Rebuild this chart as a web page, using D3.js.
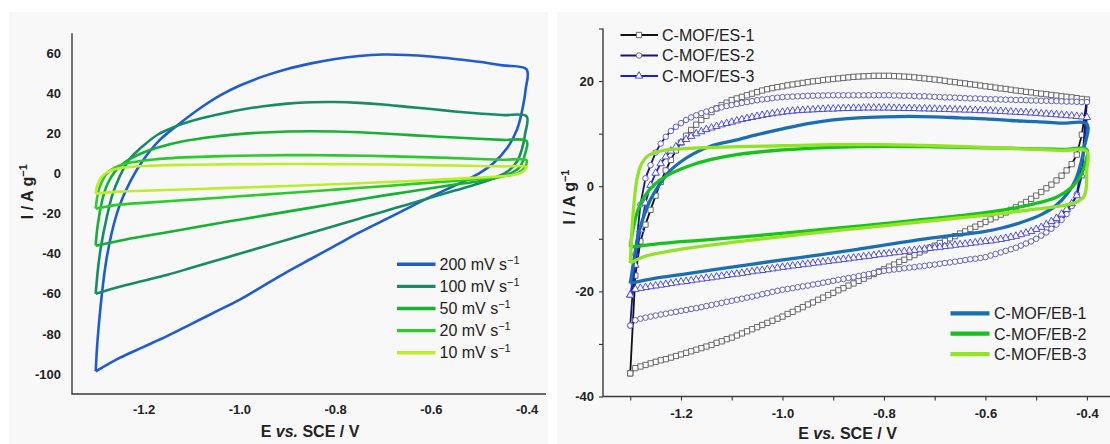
<!DOCTYPE html>
<html>
<head>
<meta charset="utf-8">
<script src="https://d3js.org/d3.v7.min.js"></script>
<style>
  body { margin: 0; background: #fff; }
  svg { display: block; font-family: "Liberation Sans", Arial, sans-serif; }
</style>
</head>
<body>
<svg width="1110" height="444"></svg>
<script>
// ---------- left panel: CV loops at different scan rates, [E (V), I (A/g)] ----------
var rateNames = ["200 mV s", "100 mV s", "50 mV s", "20 mV s", "10 mV s"];
var rateColors = ["#1f5bd1", "#178a68", "#14b132", "#2bcb2b", "#bdee2c"];

var cv200Up = [[-1.300,-98.7],[-1.297,-86],[-1.2925,-73],[-1.287,-60],[-1.279,-45],[-1.267,-30],[-1.251,-16.5],[-1.228,-4],[-1.20,7],[-1.166,16.8],[-1.124,25.1],[-1.082,32.6],[-1.04,39],[-1.00,43.8],[-0.95,48.5],[-0.90,52.2],[-0.85,55],[-0.80,57.2],[-0.75,58.7],[-0.70,59.4],[-0.65,59.2],[-0.60,58.4],[-0.55,57.2],[-0.50,55.8],[-0.45,54.0],[-0.40,52.0]];
var cv200Down = [[-0.40,52.0],[-0.402,42],[-0.408,33],[-0.42,22],[-0.44,13],[-0.47,5],[-0.50,0],[-0.55,-6],[-0.60,-11.5],[-0.65,-17.5],[-0.70,-23.5],[-0.75,-29.5],[-0.80,-36],[-0.85,-42.5],[-0.90,-49],[-0.95,-56],[-1.00,-63],[-1.05,-69],[-1.10,-75],[-1.15,-81],[-1.20,-86.5],[-1.25,-92],[-1.30,-98.7]];

var cv100Up = [[-1.30,-60],[-1.295,-47],[-1.288,-35],[-1.278,-23],[-1.265,-10.5],[-1.25,-1.5],[-1.23,7],[-1.20,14],[-1.17,19.5],[-1.13,23.8],[-1.10,26.2],[-1.05,29.2],[-1.00,31.7],[-0.95,33.6],[-0.90,34.9],[-0.85,35.6],[-0.80,35.7],[-0.75,35.3],[-0.70,34.5],[-0.65,33.3],[-0.60,32.2],[-0.55,31],[-0.50,30],[-0.45,29.2],[-0.40,28.5]];
var cv100Down = [[-0.40,28.5],[-0.403,20],[-0.41,12],[-0.42,6],[-0.44,1],[-0.47,-2.5],[-0.50,-5],[-0.55,-8.5],[-0.60,-12],[-0.65,-15.5],[-0.70,-19],[-0.75,-22.5],[-0.80,-26],[-0.85,-29.5],[-0.90,-33],[-0.95,-36.5],[-1.00,-40],[-1.05,-43.5],[-1.10,-47],[-1.15,-50.5],[-1.20,-53.5],[-1.25,-56.5],[-1.30,-60]];

var cv50Up = [[-1.30,-36],[-1.297,-28],[-1.292,-20],[-1.285,-12],[-1.275,-5],[-1.26,1],[-1.24,5.5],[-1.21,9.5],[-1.17,13],[-1.12,16],[-1.05,18.5],[-1.00,19.7],[-0.95,20.5],[-0.90,21],[-0.85,21.1],[-0.80,21],[-0.75,20.6],[-0.70,20],[-0.65,19.3],[-0.60,18.6],[-0.55,18],[-0.50,17.4],[-0.45,16.8],[-0.40,16.2]];
var cv50Down = [[-0.40,16.2],[-0.403,10],[-0.41,5],[-0.42,2],[-0.44,-0.5],[-0.47,-2.5],[-0.50,-3.8],[-0.55,-5.5],[-0.60,-7.3],[-0.65,-9.2],[-0.70,-11],[-0.75,-13],[-0.80,-15],[-0.85,-17],[-0.90,-19],[-0.95,-21],[-1.00,-23],[-1.05,-25],[-1.10,-27.2],[-1.15,-29.3],[-1.20,-31.3],[-1.25,-33.5],[-1.30,-36]];

var cv20Up = [[-1.30,-17.5],[-1.297,-12],[-1.292,-7],[-1.285,-3],[-1.275,0.5],[-1.26,3],[-1.24,4.8],[-1.20,6.5],[-1.15,7.6],[-1.10,8.2],[-1.00,8.9],[-0.90,9.2],[-0.85,9.2],[-0.80,9.1],[-0.70,8.7],[-0.60,8.1],[-0.50,7.3],[-0.45,6.9],[-0.40,6.6]];
var cv20Down = [[-0.40,6.6],[-0.403,3.5],[-0.41,1.5],[-0.42,0],[-0.44,-1],[-0.47,-2],[-0.50,-2.7],[-0.60,-4.5],[-0.70,-6.3],[-0.80,-8],[-0.90,-9.7],[-1.00,-11.3],[-1.10,-13],[-1.20,-14.6],[-1.25,-15.5],[-1.30,-17.5]];

var cv10Up = [[-1.30,-10],[-1.297,-6],[-1.29,-2.5],[-1.28,0],[-1.265,1.8],[-1.24,3],[-1.20,3.8],[-1.10,4.4],[-1.00,4.7],[-0.90,4.8],[-0.80,4.7],[-0.70,4.5],[-0.60,4.2],[-0.50,3.8],[-0.45,3.6],[-0.40,3.3]];
var cv10Down = [[-0.40,3.3],[-0.405,1.5],[-0.415,0],[-0.43,-0.8],[-0.46,-1.5],[-0.50,-2],[-0.60,-3.2],[-0.70,-4.3],[-0.80,-5.3],[-0.90,-6.2],[-1.00,-7],[-1.10,-7.8],[-1.20,-8.6],[-1.25,-9],[-1.30,-10]];

var leftXTicks = [-1.2, -1.0, -0.8, -0.6, -0.4];
var leftYTicks = [-100, -80, -60, -40, -20, 0, 20, 40, 60];

// ---------- right panel ----------
var ebNames = ["C-MOF/EB-1", "C-MOF/EB-2", "C-MOF/EB-3"];
var ebColors = ["#1b6eb1", "#16c21c", "#92e226"];

var eb1Up = [[-1.30,-18.5],[-1.293,-14.2],[-1.284,-9.1],[-1.274,-5.9],[-1.261,-2.7],[-1.244,0.1],[-1.224,2.7],[-1.201,4.6],[-1.175,6.2],[-1.142,7.6],[-1.11,8.4],[-1.09,8.8],[-1.05,9.8],[-1.00,10.9],[-0.95,11.9],[-0.90,12.6],[-0.85,13.0],[-0.80,13.2],[-0.75,13.3],[-0.70,13.2],[-0.65,13.0],[-0.60,12.8],[-0.55,12.5],[-0.50,12.3],[-0.45,12.0],[-0.40,11.8]];
var eb1Down = [[-0.40,11.8],[-0.405,7.5],[-0.412,4.3],[-0.422,1.3],[-0.437,-1.2],[-0.46,-3.6],[-0.49,-5.4],[-0.53,-6.9],[-0.57,-8.0],[-0.60,-8.6],[-0.70,-9.8],[-0.80,-11.2],[-0.90,-12.7],[-1.00,-14.0],[-1.10,-15.4],[-1.20,-16.8],[-1.25,-17.5],[-1.30,-18.5]];

var eb2Up = [[-1.30,-11.6],[-1.295,-8.5],[-1.287,-5.2],[-1.272,-2],[-1.25,0.5],[-1.22,2.4],[-1.18,4.0],[-1.14,5.1],[-1.09,6.0],[-1.00,6.9],[-0.90,7.4],[-0.80,7.6],[-0.70,7.5],[-0.60,7.3],[-0.50,7.1],[-0.45,7.0],[-0.40,6.9]];
var eb2Down = [[-0.40,6.9],[-0.4036,4.3],[-0.4135,1.7],[-0.43,-0.2],[-0.46,-2.1],[-0.506,-3.4],[-0.57,-4.6],[-0.65,-5.6],[-0.75,-6.6],[-0.85,-7.6],[-0.95,-8.5],[-1.05,-9.4],[-1.15,-10.2],[-1.25,-11.0],[-1.30,-11.6]];

var eb3Up = [[-1.30,-14.6],[-1.2975,-10],[-1.295,-6],[-1.292,-2.7],[-1.287,1.2],[-1.279,4.0],[-1.265,5.8],[-1.24,6.7],[-1.20,7.1],[-1.10,7.5],[-1.00,7.7],[-0.90,7.9],[-0.80,7.9],[-0.70,7.7],[-0.60,7.4],[-0.50,7.0],[-0.45,6.8],[-0.40,6.6]];
var eb3Down = [[-0.40,6.6],[-0.4005,3],[-0.401,0],[-0.403,-1.2],[-0.407,-2.1],[-0.42,-3.0],[-0.447,-3.7],[-0.506,-4.4],[-0.57,-5.2],[-0.65,-6.0],[-0.75,-7.0],[-0.85,-8.0],[-0.95,-9.0],[-1.05,-10.1],[-1.15,-11.3],[-1.22,-12.3],[-1.27,-13.3],[-1.30,-14.6]];

// ES series: sampled every 10 mV, anodic sweep (-1.30 -> -0.40) and cathodic sweep (-0.40 -> -1.30)
var esNames = ["C-MOF/ES-1", "C-MOF/ES-2", "C-MOF/ES-3"];
var esLineColors = ["#111111", "#15157c", "#1d1dd2"];
var esMarkColors = ["#5a5a5a", "#5252b8", "#3b3bde"];

var esPotential = [-1.30,-1.29,-1.28,-1.27,-1.26,-1.25,-1.24,-1.23,-1.22,-1.21,
  -1.20,-1.19,-1.18,-1.17,-1.16,-1.15,-1.14,-1.13,-1.12,-1.11,
  -1.10,-1.09,-1.08,-1.07,-1.06,-1.05,-1.04,-1.03,-1.02,-1.01,
  -1.00,-0.99,-0.98,-0.97,-0.96,-0.95,-0.94,-0.93,-0.92,-0.91,
  -0.90,-0.89,-0.88,-0.87,-0.86,-0.85,-0.84,-0.83,-0.82,-0.81,
  -0.80,-0.79,-0.78,-0.77,-0.76,-0.75,-0.74,-0.73,-0.72,-0.71,
  -0.70,-0.69,-0.68,-0.67,-0.66,-0.65,-0.64,-0.63,-0.62,-0.61,
  -0.60,-0.59,-0.58,-0.57,-0.56,-0.55,-0.54,-0.53,-0.52,-0.51,
  -0.50,-0.49,-0.48,-0.47,-0.46,-0.45,-0.44,-0.43,-0.42,-0.41,
  -0.40];

var es1Up = [-35.6,-17.0,-10.5,-7.3,-4.5,-1.8,0.8,3.0,5.0,6.8,
  8.3,9.6,10.7,11.7,12.6,13.4,14.1,14.8,15.4,15.9,
  16.4,16.7,17.0,17.3,17.6,17.9,18.2,18.45,18.65,18.85,
  19.0,19.2,19.35,19.5,19.65,19.8,19.95,20.05,20.2,20.3,
  20.4,20.5,20.6,20.7,20.8,20.85,20.9,20.95,21.0,21.0,
  21.0,21.0,20.95,20.9,20.85,20.8,20.7,20.6,20.5,20.4,
  20.3,20.2,20.05,19.9,19.8,19.65,19.55,19.4,19.3,19.15,
  19.0,18.9,18.75,18.6,18.5,18.35,18.2,18.1,17.95,17.85,
  17.7,17.6,17.5,17.35,17.25,17.1,17.0,16.9,16.75,16.6,
  16.5];
var es1Down = [16.5,9.8,6.0,4.2,3.0,2.0,1.1,0.3,-0.4,-1.1,
  -1.8,-2.4,-3.0,-3.5,-4.0,-4.5,-5.0,-5.4,-5.9,-6.3,
  -6.8,-7.2,-7.7,-8.1,-8.6,-9.0,-9.5,-9.9,-10.4,-10.8,
  -11.3,-11.7,-12.2,-12.6,-13.1,-13.5,-14.0,-14.4,-14.9,-15.3,
  -15.8,-16.2,-16.7,-17.1,-17.6,-18.0,-18.5,-18.9,-19.4,-19.8,
  -20.3,-20.7,-21.2,-21.6,-22.1,-22.5,-23.0,-23.4,-23.9,-24.3,
  -24.8,-25.2,-25.6,-26.0,-26.4,-26.8,-27.2,-27.6,-28.0,-28.4,
  -28.8,-29.1,-29.5,-29.8,-30.2,-30.5,-30.8,-31.1,-31.4,-31.7,
  -32.0,-32.3,-32.6,-32.9,-33.1,-33.4,-33.7,-34.0,-34.3,-34.6,
  -35.6];

var es2Up = [-26.5,-13.0,-3.5,1.5,4.0,6.4,8.1,9.4,10.5,11.3,
  12.0,12.6,13.1,13.5,13.9,14.2,14.5,14.8,15.0,15.25,
  15.45,15.65,15.85,16.0,16.2,16.35,16.5,16.6,16.75,16.85,
  16.95,17.0,17.05,17.1,17.15,17.2,17.2,17.25,17.25,17.3,
  17.3,17.3,17.3,17.3,17.3,17.3,17.3,17.3,17.3,17.3,
  17.3,17.3,17.25,17.25,17.2,17.2,17.15,17.1,17.1,17.05,
  17.0,16.95,16.9,16.9,16.85,16.8,16.75,16.7,16.7,16.65,
  16.6,16.55,16.55,16.5,16.45,16.45,16.4,16.4,16.35,16.3,
  16.3,16.25,16.25,16.2,16.2,16.15,16.1,16.1,16.05,16.0,
  16.0];
var es2Down = [16.0,4.0,-1.5,-3.8,-5.3,-6.4,-7.3,-8.1,-8.8,-9.4,
  -10.0,-10.5,-10.9,-11.3,-11.7,-12.0,-12.3,-12.6,-12.9,-13.2,
  -13.5,-13.65,-13.8,-13.9,-14.05,-14.2,-14.35,-14.5,-14.6,-14.75,
  -14.9,-15.0,-15.15,-15.25,-15.4,-15.5,-15.6,-15.75,-15.85,-16.0,
  -16.1,-16.3,-16.5,-16.7,-16.9,-17.1,-17.3,-17.45,-17.65,-17.8,
  -18.0,-18.2,-18.35,-18.55,-18.7,-18.9,-19.05,-19.2,-19.4,-19.55,
  -19.7,-19.9,-20.1,-20.35,-20.55,-20.8,-21.0,-21.2,-21.4,-21.6,
  -21.8,-22.0,-22.2,-22.4,-22.6,-22.8,-23.0,-23.2,-23.35,-23.55,
  -23.7,-23.9,-24.05,-24.25,-24.4,-24.6,-24.8,-25.0,-25.2,-25.5,
  -26.5];

var es3Up = [-20.7,-15.0,-8.3,-3.2,0.2,2.5,4.3,5.6,6.7,7.5,
  8.3,8.9,9.5,10.0,10.4,10.8,11.1,11.4,11.7,11.95,
  12.2,12.45,12.7,12.9,13.1,13.3,13.5,13.65,13.8,13.95,
  14.1,14.2,14.3,14.4,14.45,14.5,14.55,14.6,14.65,14.7,
  14.7,14.75,14.8,14.8,14.85,14.85,14.9,14.9,14.9,14.9,
  14.9,14.9,14.85,14.85,14.8,14.8,14.8,14.75,14.75,14.7,
  14.7,14.65,14.65,14.6,14.55,14.55,14.5,14.5,14.45,14.4,
  14.4,14.35,14.3,14.25,14.2,14.15,14.1,14.05,14.0,13.95,
  13.9,13.8,13.75,13.7,13.6,13.55,13.45,13.4,13.3,13.2,
  13.1];
var es3Down = [13.1,2.0,-1.8,-3.3,-4.4,-5.3,-6.1,-6.7,-7.3,-7.8,
  -8.2,-8.6,-8.9,-9.2,-9.5,-9.7,-9.9,-10.1,-10.25,-10.4,
  -10.5,-10.6,-10.75,-10.85,-11.0,-11.1,-11.2,-11.35,-11.45,-11.6,
  -11.7,-11.8,-11.95,-12.05,-12.2,-12.3,-12.4,-12.55,-12.65,-12.8,
  -12.9,-13.0,-13.15,-13.3,-13.4,-13.55,-13.65,-13.8,-13.9,-14.05,
  -14.15,-14.3,-14.4,-14.55,-14.65,-14.8,-14.9,-15.05,-15.15,-15.3,
  -15.4,-15.55,-15.7,-15.85,-16.0,-16.1,-16.25,-16.4,-16.55,-16.7,
  -16.8,-16.95,-17.1,-17.25,-17.4,-17.5,-17.65,-17.8,-17.95,-18.1,
  -18.2,-18.35,-18.5,-18.65,-18.8,-18.95,-19.1,-19.25,-19.4,-19.6,
  -20.7];

var rightXTicks = [-1.3, -1.2, -1.1, -1.0, -0.9, -0.8, -0.7, -0.6, -0.5, -0.4];
var rightXLabels = [-1.2, -1.0, -0.8, -0.6, -0.4];
var rightYTicks = [-40, -30, -20, -10, 0, 10, 20, 30];
var rightYLabels = [-40, -20, 0, 20];

// ---------- drawing ----------
var svg = d3.select("svg");
var fmt1 = function(d) { return d.toFixed(1); };
var fmt0 = function(d) { return String(d); };

svg.append("rect").attr("x", 9).attr("y", 12).attr("width", 539).attr("height", 432).attr("fill", "#f8f8f8");
svg.append("rect").attr("x", 557).attr("y", 12).attr("width", 553).attr("height", 432).attr("fill", "#f8f8f8");

function loop(up, down) { return up.concat(down.slice(1)); }
function zipSweep(vals, reverse) {
  var e = reverse ? esPotential.slice().reverse() : esPotential;
  return vals.map(function(v, i) { return [e[i], v]; });
}

function styleTicks(g) {
  g.select(".domain").remove();
  g.selectAll("text").attr("font-size", 13).attr("font-weight", "bold").attr("fill", "#222")
    .attr("font-family", "'Liberation Sans', Arial, sans-serif");
  g.selectAll("line").attr("stroke", "#333").attr("stroke-width", 1.1);
}

function axisTitles(cx, baseY, yx, yy) {
  var t = svg.append("text").attr("x", cx).attr("y", baseY).attr("text-anchor", "middle")
    .attr("font-size", 16).attr("font-weight", "bold").attr("fill", "#222");
  t.append("tspan").text("E ");
  t.append("tspan").attr("font-style", "italic").text("vs.");
  t.append("tspan").text(" SCE / V");
  var yt = svg.append("text").attr("transform", "translate(" + yx + "," + yy + ") rotate(-90)")
    .attr("text-anchor", "middle").attr("font-size", 16).attr("font-weight", "bold").attr("fill", "#222");
  yt.append("tspan").text("I / A g");
  yt.append("tspan").attr("font-size", 11).attr("dy", -6).text("\u22121");
}

// ----- left -----
var xL = d3.scaleLinear().domain([-1.3495, -0.3595]).range([72, 546]);
var yL = d3.scaleLinear().domain([-110, 70]).range([394, 33.3]);

svg.append("g").attr("transform", "translate(0,394)")
  .call(d3.axisBottom(xL).tickValues(leftXTicks).tickSize(0).tickPadding(11).tickFormat(fmt1))
  .call(styleTicks);
svg.append("g").attr("transform", "translate(72,0)")
  .call(d3.axisLeft(yL).tickValues(leftYTicks).tickSize(0).tickPadding(11).tickFormat(fmt0))
  .call(styleTicks);

svg.append("path").attr("fill", "none").attr("stroke", "#3a3a3a").attr("stroke-width", 1.4)
  .attr("d", "M" + xL.range()[0] + "," + yL.range()[1] + "V" + yL.range()[0] + "H" + xL.range()[1]);

var lineL = d3.line().x(function(d) { return xL(d[0]); }).y(function(d) { return yL(d[1]); })
  .curve(d3.curveCatmullRom.alpha(0.5));
var leftLoops = [loop(cv200Up, cv200Down), loop(cv100Up, cv100Down), loop(cv50Up, cv50Down),
                 loop(cv20Up, cv20Down), loop(cv10Up, cv10Down)];
leftLoops.forEach(function(pts, i) {
  svg.append("path").datum(pts).attr("fill", "none").attr("stroke", rateColors[i])
    .attr("stroke-width", 2.6).attr("stroke-linejoin", "round").attr("d", lineL);
});

rateNames.forEach(function(name, i) {
  var y = 264.3 + i * 22.1;
  svg.append("line").attr("x1", 397).attr("x2", 435.5).attr("y1", y).attr("y2", y)
    .attr("stroke", rateColors[i]).attr("stroke-width", 3.4);
  var t = svg.append("text").attr("x", 439.5).attr("y", y + 5.6).attr("font-size", 16).attr("fill", "#222");
  t.append("tspan").text(name);
  t.append("tspan").attr("font-size", 11).attr("dy", -6).text("\u22121");
});

axisTitles(310, 437, 32.5, 191.7);

// ----- right -----
var xR = d3.scaleLinear().domain([-1.3537, -0.3545]).range([603, 1110]);
var yR = d3.scaleLinear().domain([-40, 30]).range([396.5, 28.5]);

svg.append("g").attr("transform", "translate(0,396.5)")
  .call(d3.axisBottom(xR).tickValues(rightXTicks).tickSize(4).tickPadding(8)
    .tickFormat(function(d) { return rightXLabels.some(function(v) { return Math.abs(v - d) < 1e-6; }) ? fmt1(d) : ""; }))
  .call(styleTicks);
svg.append("g").attr("transform", "translate(603,0)")
  .call(d3.axisLeft(yR).tickValues(rightYTicks).tickSize(4).tickPadding(5)
    .tickFormat(function(d) { return rightYLabels.indexOf(d) >= 0 ? fmt0(d) : ""; }))
  .call(styleTicks);

svg.append("path").attr("fill", "none").attr("stroke", "#3a3a3a").attr("stroke-width", 1.4)
  .attr("d", "M" + xR.range()[0] + "," + yR.range()[1] + "V" + yR.range()[0] + "H" + xR.range()[1]);

var lineRLin = d3.line().x(function(d) { return xR(d[0]); }).y(function(d) { return yR(d[1]); });
var lineRSmooth = d3.line().x(function(d) { return xR(d[0]); }).y(function(d) { return yR(d[1]); })
  .curve(d3.curveCatmullRom.alpha(0.5));

var esSymbols = [d3.symbolSquare, d3.symbolCircle, d3.symbolTriangle];
var esSizes = [28, 24, 24];
var esLoops = [
  loop(zipSweep(es1Up, false), zipSweep(es1Down, true)),
  loop(zipSweep(es2Up, false), zipSweep(es2Down, true)),
  loop(zipSweep(es3Up, false), zipSweep(es3Down, true))
];

esLoops.forEach(function(pts, i) {
  var g = svg.append("g");
  g.append("path").datum(pts).attr("fill", "none").attr("stroke", esLineColors[i])
    .attr("stroke-width", 1.8).attr("d", lineRLin);
  g.selectAll("path.mk").data(pts).enter().append("path").attr("class", "mk")
    .attr("transform", function(d) { return "translate(" + xR(d[0]) + "," + yR(d[1]) + ")"; })
    .attr("d", d3.symbol().type(esSymbols[i]).size(esSizes[i]))
    .attr("fill", "#fbfbfb").attr("stroke", esMarkColors[i]).attr("stroke-width", 0.9);
});

var ebLoops = [loop(eb1Up, eb1Down), loop(eb2Up, eb2Down), loop(eb3Up, eb3Down)];
ebLoops.forEach(function(pts, i) {
  svg.append("path").datum(pts).attr("fill", "none").attr("stroke", ebColors[i])
    .attr("stroke-width", 3.3).attr("stroke-linejoin", "round").attr("d", lineRSmooth);
});

// legends
esNames.forEach(function(name, i) {
  var y = 35 + i * 20.5;
  svg.append("line").attr("x1", 620.5).attr("x2", 658).attr("y1", y).attr("y2", y)
    .attr("stroke", esLineColors[i]).attr("stroke-width", 2.2);
  svg.append("path").attr("transform", "translate(639," + y + ")")
    .attr("d", d3.symbol().type(esSymbols[i]).size(esSizes[i]))
    .attr("fill", "#fbfbfb").attr("stroke", esMarkColors[i]).attr("stroke-width", 0.9);
  svg.append("text").attr("x", 662).attr("y", y + 5.8).attr("font-size", 16).attr("fill", "#222").text(name);
});
ebNames.forEach(function(name, i) {
  var y = 313.3 + i * 20.4;
  svg.append("line").attr("x1", 950.5).attr("x2", 989.5).attr("y1", y).attr("y2", y)
    .attr("stroke", ebColors[i]).attr("stroke-width", 4.2);
  svg.append("text").attr("x", 994).attr("y", y + 5.8).attr("font-size", 16).attr("fill", "#222").text(name);
});

axisTitles(847.5, 438.5, 574.5, 197);
</script>
</body>
</html>
